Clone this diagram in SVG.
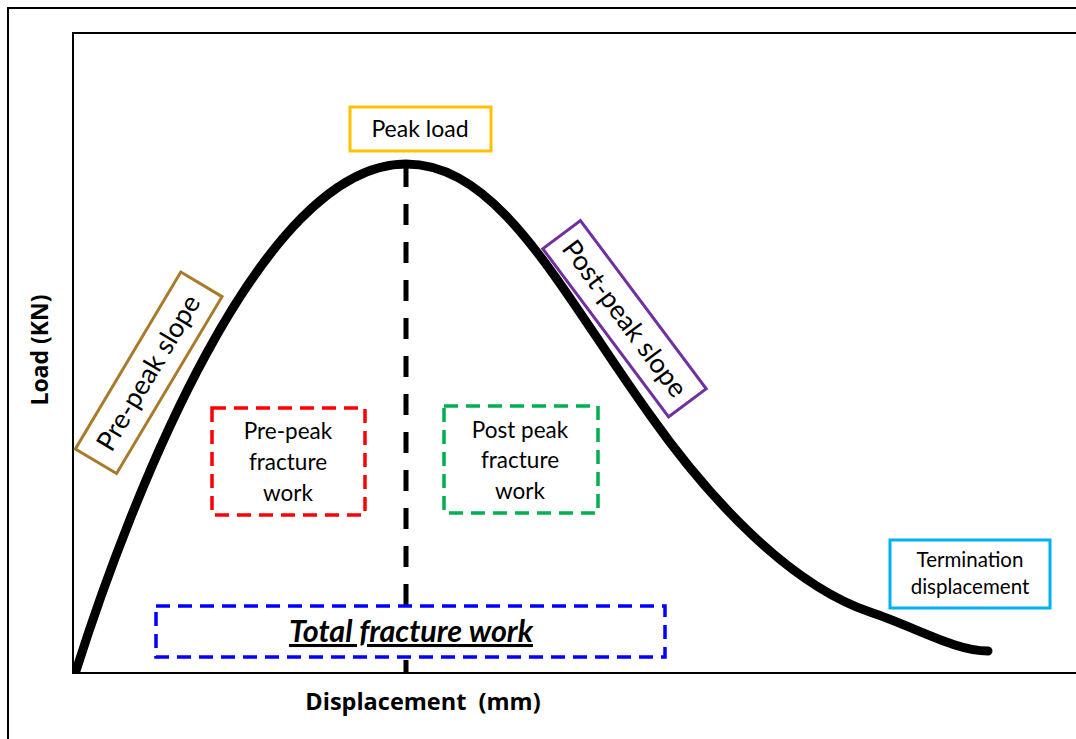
<svg xmlns="http://www.w3.org/2000/svg" width="1076" height="739" viewBox="0 0 1076 739">
  <style>
    .frame { fill: none; stroke: #000; stroke-width: 2; }
    .lbl { font-family: Lato, "Liberation Sans", sans-serif; fill: #000; text-anchor: middle; }
    .axis { font-family: "Open Sans", "Liberation Sans", sans-serif; font-weight: bold; fill: #000; text-anchor: middle; }
    .box { fill: none; stroke-width: 3; }
    .dbox { fill: none; stroke-width: 3.5; stroke-dasharray: 14 8; }
  </style>
  <defs>
    <clipPath id="plotArea">
      <rect x="73" y="33" width="1003" height="640"/>
    </clipPath>
  </defs>
  <rect width="1076" height="739" fill="#fff"/>

  <!-- outer figure border and plot axes -->
  <path class="frame" d="M8,739 V8 H1076"/>
  <path class="frame" d="M1076,33 H73 V673 H1076" stroke="#111"/>

  <!-- axis titles -->
  <text class="axis" x="423" y="710" font-size="23.5" xml:space="preserve">Displacement  (mm)</text>
  <text class="axis" font-size="23" transform="translate(48,350) rotate(-90)">Load (KN)</text>

  <g id="connectors">
    <!-- load-displacement curve -->
    <path clip-path="url(#plotArea)" d="M75,674 C130,500 260,164 406,164 C500,164 560,290 650,415 C710,500 790,585 870,612 C915,627 955,651 988,651" fill="none" stroke="#000" stroke-width="9" stroke-linecap="round"/>
    <!-- peak divider -->
    <line x1="406" y1="166" x2="406" y2="672" stroke="#000" stroke-width="5" stroke-dasharray="21 17"/>
  </g>

  <g id="peak-load">
    <rect class="box" x="350" y="107" width="141" height="44" stroke="#FFC000"/>
    <text class="lbl" x="420" y="137" font-size="23">Peak load</text>
  </g>

  <g id="pre-peak-slope" transform="translate(148.7,372.8) rotate(-59.2)">
    <rect class="box" x="-103" y="-24" width="206" height="48" stroke="#A87A2A"/>
    <text class="lbl" x="0" y="9" font-size="27">Pre-peak slope</text>
  </g>

  <g id="post-peak-slope" transform="translate(624.5,318.7) rotate(53.2)">
    <rect class="box" x="-105" y="-23.5" width="210" height="47" stroke="#7030A0"/>
    <text class="lbl" x="0" y="9" font-size="27">Post-peak slope</text>
  </g>

  <g id="pre-peak-work">
    <rect class="dbox" x="212" y="408" width="153" height="107" stroke="#FF0000"/>
    <text class="lbl" x="288" y="439" font-size="22.5">Pre-peak</text>
    <text class="lbl" x="288" y="470" font-size="22.5">fracture</text>
    <text class="lbl" x="288" y="501" font-size="22.5">work</text>
  </g>

  <g id="post-peak-work">
    <rect class="dbox" x="444" y="406" width="154" height="107" stroke="#00B050"/>
    <text class="lbl" x="520" y="438" font-size="22.5">Post peak</text>
    <text class="lbl" x="520" y="468" font-size="22.5">fracture</text>
    <text class="lbl" x="520" y="499" font-size="22.5">work</text>
  </g>

  <g id="total-work">
    <rect x="156" y="606" width="509" height="51" fill="#fff"/>
    <rect class="dbox" x="156" y="606" width="509" height="51" stroke="#0000FF"/>
    <text class="lbl" x="411" y="642" font-size="30.5" font-weight="bold" font-style="italic" text-decoration="underline">Total fracture work</text>
  </g>

  <g id="termination">
    <rect class="box" x="890" y="540" width="160" height="68" stroke="#00B0F0"/>
    <text class="lbl" x="970" y="567" font-size="20.5">Termination</text>
    <text class="lbl" x="970" y="594" font-size="20.5">displacement</text>
  </g>
</svg>
